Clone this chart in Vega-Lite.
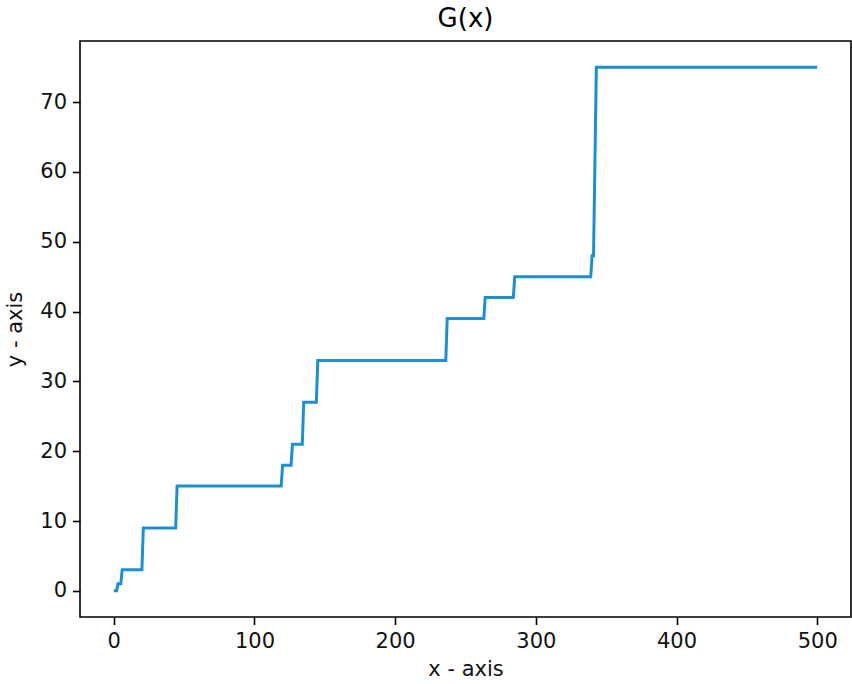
{
  "$schema": "https://vega.github.io/schema/vega-lite/v6.json",
  "autosize": {"type": "none"},
  "width": 771,
  "height": 576,
  "padding": {"left": 80, "top": 41, "right": 1, "bottom": 67},
  "background": "white",
  "title": {"text": "G(x)", "font": "DejaVu Sans", "fontSize": 26, "fontWeight": "normal", "color": "black", "offset": 9, "anchor": "middle"},
  "config": {
    "view": {"stroke": "black", "strokeWidth": 1.6},
    "axis": {"grid": false, "domain": false, "tickColor": "black", "tickWidth": 1.6, "tickSize": 7.5, "labelPadding": 6, "labelFont": "DejaVu Sans", "labelFontSize": 21, "labelColor": "#111111", "titleFont": "DejaVu Sans", "titleFontSize": 21, "titleFontWeight": "normal", "titleColor": "#111111"}
  },
  "data": {"values": [
    {"x": 0, "y": 0}, {"x": 2, "y": 0}, {"x": 3, "y": 1}, {"x": 5, "y": 1}, {"x": 6, "y": 3},
    {"x": 20, "y": 3}, {"x": 21, "y": 9}, {"x": 44, "y": 9}, {"x": 45, "y": 15},
    {"x": 119, "y": 15}, {"x": 120, "y": 18}, {"x": 126, "y": 18}, {"x": 127, "y": 21},
    {"x": 134, "y": 21}, {"x": 135, "y": 27}, {"x": 144, "y": 27}, {"x": 145, "y": 33},
    {"x": 236, "y": 33}, {"x": 237, "y": 39}, {"x": 263, "y": 39}, {"x": 264, "y": 42},
    {"x": 284, "y": 42}, {"x": 285, "y": 45}, {"x": 339, "y": 45}, {"x": 340, "y": 48},
    {"x": 341, "y": 48}, {"x": 343, "y": 75}, {"x": 500, "y": 75}
  ]},
  "mark": {"type": "line", "color": "#1f8fd4", "strokeWidth": 3, "clip": true},
  "encoding": {
    "x": {"field": "x", "type": "quantitative", "scale": {"domain": [-24, 524], "nice": false, "zero": false},
          "axis": {"values": [0, 100, 200, 300, 400, 500], "title": "x - axis", "titlePadding": 7}},
    "y": {"field": "y", "type": "quantitative", "scale": {"domain": [-3.75, 78.75], "nice": false, "zero": false},
          "axis": {"values": [0, 10, 20, 30, 40, 50, 60, 70], "title": "y - axis", "titlePadding": 14}}
  }
}
